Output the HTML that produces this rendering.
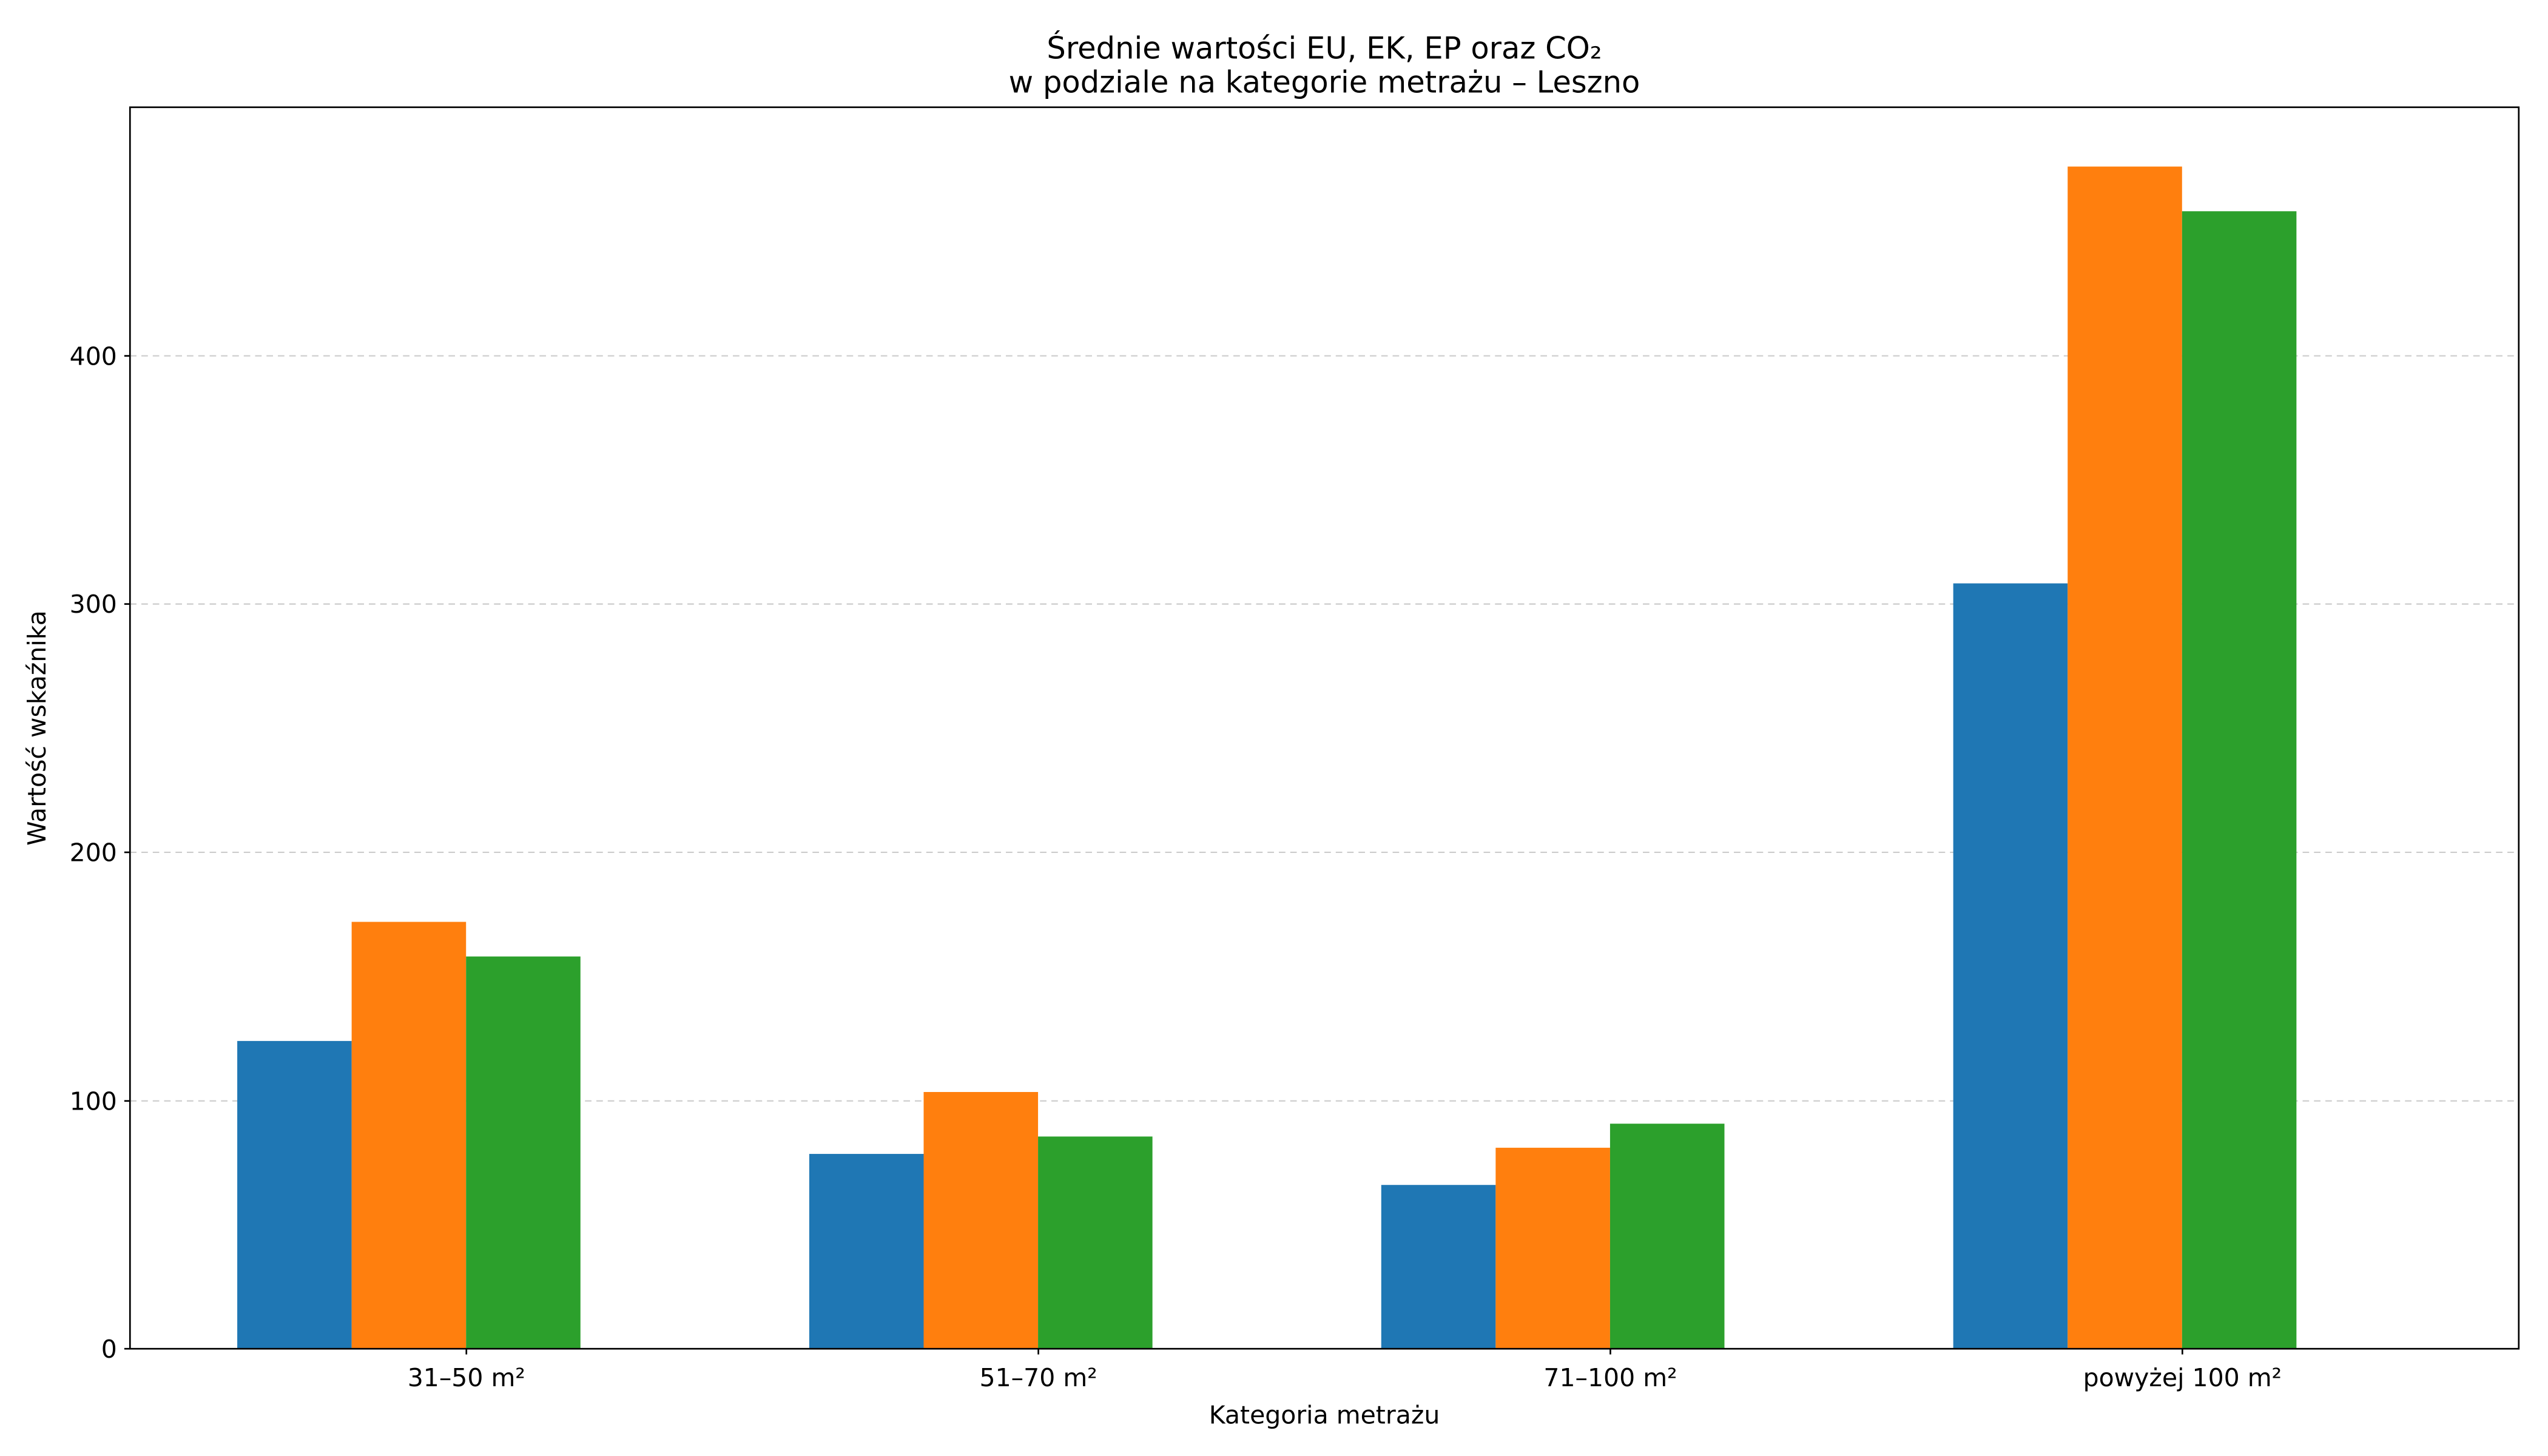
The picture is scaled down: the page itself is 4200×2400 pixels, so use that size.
<!DOCTYPE html>
<html><head><meta charset="utf-8"><style>html,body{margin:0;padding:0;background:#fff}svg{display:block}</style></head>
<body>
<svg xmlns="http://www.w3.org/2000/svg" width="4200" height="2400" viewBox="0 0 1568 896" font-family="DejaVu Sans, Liberation Sans, sans-serif">
<rect width="1568" height="896" fill="#fff"/>
<g stroke="#cccccc" stroke-width="0.8" stroke-dasharray="4,3">
<line x1="80" x2="1550" y1="677.5" y2="677.5"/>
<line x1="80" x2="1550" y1="524.5" y2="524.5"/>
<line x1="80" x2="1550" y1="371.7" y2="371.7"/>
<line x1="80" x2="1550" y1="219" y2="219"/>
</g>
<g>
<rect x="146" y="640.6" width="70.4" height="189.4" fill="#1f77b4"/>
<rect x="216.4" y="567.3" width="70.4" height="262.7" fill="#ff7f0e"/>
<rect x="286.8" y="588.6" width="70.4" height="241.4" fill="#2ca02c"/>
<rect x="498" y="710.1" width="70.4" height="119.9" fill="#1f77b4"/>
<rect x="568.4" y="672" width="70.4" height="158" fill="#ff7f0e"/>
<rect x="638.8" y="699.4" width="70.4" height="130.6" fill="#2ca02c"/>
<rect x="850" y="729.2" width="70.4" height="100.8" fill="#1f77b4"/>
<rect x="920.4" y="706.3" width="70.4" height="123.7" fill="#ff7f0e"/>
<rect x="990.8" y="691.5" width="70.4" height="138.5" fill="#2ca02c"/>
<rect x="1202" y="359" width="70.4" height="471" fill="#1f77b4"/>
<rect x="1272.4" y="102.5" width="70.4" height="727.5" fill="#ff7f0e"/>
<rect x="1342.8" y="130" width="70.4" height="700" fill="#2ca02c"/>
</g>
<rect x="80" y="66" width="1470" height="764" fill="none" stroke="#000" stroke-width="1"/>
<g stroke="#000" stroke-width="1">
<line x1="76.5" x2="80" y1="830" y2="830"/>
<line x1="76.5" x2="80" y1="677.5" y2="677.5"/>
<line x1="76.5" x2="80" y1="524.5" y2="524.5"/>
<line x1="76.5" x2="80" y1="371.7" y2="371.7"/>
<line x1="76.5" x2="80" y1="219" y2="219"/>
<line x1="287" x2="287" y1="830" y2="833.5"/>
<line x1="639" x2="639" y1="830" y2="833.5"/>
<line x1="991" x2="991" y1="830" y2="833.5"/>
<line x1="1343" x2="1343" y1="830" y2="833.5"/>
</g>
<g font-size="15.3" fill="#000" text-anchor="end">
<text x="72" y="835.5">0</text>
<text x="72" y="683">100</text>
<text x="72" y="530">200</text>
<text x="72" y="377">300</text>
<text x="72" y="224.5">400</text>
</g>
<g font-size="15.3" fill="#000" text-anchor="middle">
<text x="287" y="853">31–50 m²</text>
<text x="639" y="853">51–70 m²</text>
<text x="991" y="853">71–100 m²</text>
<text x="1343" y="853">powyżej 100 m²</text>
<text x="815" y="876">Kategoria metrażu</text>
<text x="815" y="36" font-size="18.5">Średnie wartości EU, EK, EP oraz CO₂</text>
<text x="815" y="57" font-size="18.5">w podziale na kategorie metrażu – Leszno</text>
<text transform="translate(28,448) rotate(-90)">Wartość wskaźnika</text>
</g>
</svg>
</body></html>
